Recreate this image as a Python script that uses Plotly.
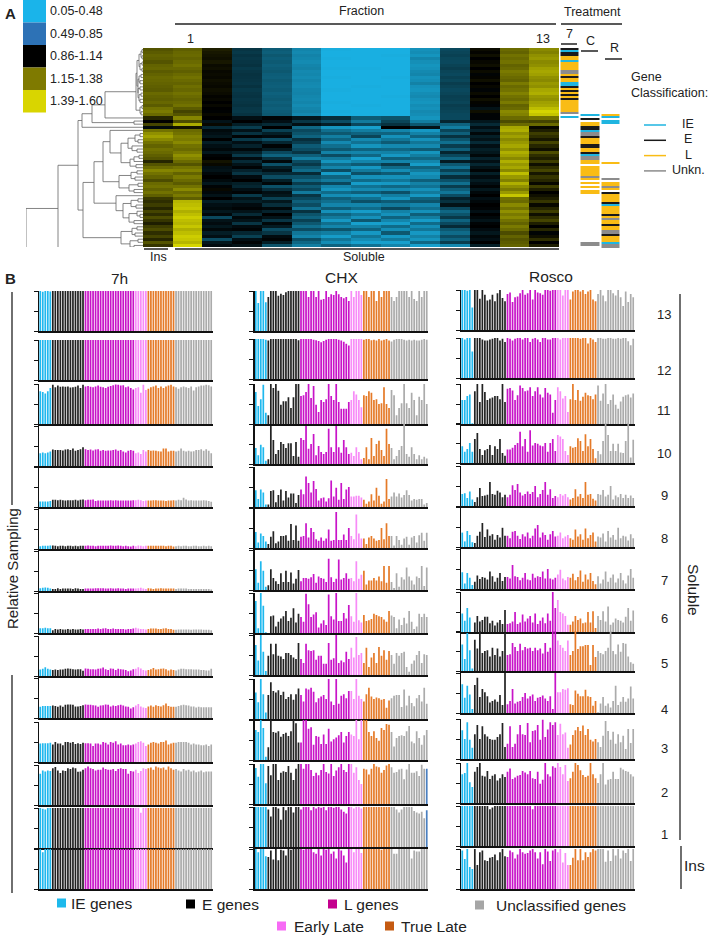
import plotly.graph_objects as go

W, H = 708, 935

# ---------- Panel A: heat map values (x100), one list per fraction, top row to bottom row
ins = [122,124,126,125,122,126,127,124,126,128,127,126,125,124,128,126,125,127,124,130,132,128,
       110,100,118,95,130,138,142,136,130,126,130,128,125,122,110,122,128,135,130,126,120,128,130,126,130,125,115,
       112,116,110,118,112,120,114,108,116,120,112,118,110,122,114,108,116]
f1 = [125,127,128,126,128,130,127,125,128,130,128,126,129,127,130,128,126,128,130,124,118,122,
      135,120,145,105,128,130,134,132,136,130,128,132,138,134,128,122,130,134,126,132,128,124,130,136,128,132,125,
      148,150,152,146,150,154,150,148,152,146,150,154,152,148,156,158,156]
f2 = [108,106,105,104,106,103,104,102,103,102,104,103,102,104,103,101,102,100,102,100,99,102,
      100,90,102,78,95,92,88,100,85,92,96,88,98,100,105,102,92,90,96,100,95,88,98,102,96,90,100,
      85,92,95,88,96,62,90,94,88,96,85,92,60,88,94,86,90]
f3 = [72,70,73,71,72,74,70,72,74,73,72,71,74,70,72,73,71,72,74,71,70,73,
      92,100,84,68,90,74,98,70,92,82,96,84,70,94,78,90,98,82,72,94,100,84,80,92,98,70,90,
      84,94,98,90,78,96,90,72,94,98,80,66,92,98,90,94,86]
f4 = [52,50,54,51,53,50,52,54,51,50,53,51,50,52,49,51,53,50,52,50,52,54,
      98,92,78,100,66,84,94,60,80,98,86,62,48,76,96,58,84,92,78,60,84,96,58,76,92,88,66,
      88,76,96,82,100,90,72,96,86,60,72,94,98,84,56,70,66]
f5 = [30,28,31,29,27,30,32,28,29,27,30,28,27,30,31,29,28,30,27,30,32,28,
      88,72,92,46,62,56,48,76,68,52,60,72,50,34,60,70,54,44,78,58,46,68,52,62,36,72,62,
      50,60,40,74,56,48,66,54,42,60,38,30,58,46,34,44,30]
f6 = [9,8,8,9,8,8,9,8,8,9,8,8,8,9,8,8,8,9,8,8,9,8,
      76,60,84,22,42,54,34,48,28,42,54,32,60,36,22,44,30,60,18,48,36,62,30,22,44,26,50,
      42,30,52,24,48,36,20,42,30,56,34,18,38,26,48,32,8]
f7 = [8,8,8,8,8,8,9,8,8,8,8,8,9,8,8,8,8,8,9,8,8,8,
      52,36,62,16,34,48,64,28,40,22,48,30,46,16,30,52,20,36,58,24,44,18,40,28,50,22,42,
      58,30,44,18,38,24,54,16,32,48,20,38,26,16,40,22,8]
f8 = [8,8,9,8,8,8,8,8,8,9,8,8,8,8,8,9,8,8,8,8,8,8,
      56,64,74,100,30,48,24,38,52,28,46,32,20,50,30,68,44,26,52,24,38,20,46,28,58,34,22,
      52,36,62,32,24,48,30,18,44,26,54,20,36,16,30,24,8]
f9 = [24,26,22,30,25,22,24,28,30,24,26,32,24,22,26,28,24,22,26,24,28,26,
      22,34,54,90,20,32,48,24,38,28,52,22,34,46,30,18,48,36,22,28,50,32,40,24,36,20,48,
      56,30,42,24,50,34,18,44,26,38,20,32,22,46,16,34,8]
f10 = [62,64,66,63,62,65,68,64,62,66,63,68,65,62,64,67,66,64,68,66,64,62,
       62,80,48,34,64,50,74,56,42,68,50,80,62,46,86,54,40,66,48,76,58,42,68,50,38,60,82,
       74,90,62,46,56,70,48,62,78,54,44,60,48,68,28,60,26]
f11 = [103,101,104,100,102,104,100,103,98,101,104,100,102,98,103,100,104,101,98,90,104,98,
       98,88,78,92,82,96,84,90,78,92,84,88,96,82,92,80,90,98,84,94,86,92,98,88,96,100,92,
       96,100,98,92,100,96,90,98,100,94,88,96,92,100,84,90,110]
f12 = [128,126,130,128,130,126,128,132,130,128,126,132,128,130,134,130,128,132,126,128,136,134,
       128,120,128,144,146,138,142,136,140,144,138,146,142,136,146,140,144,136,150,140,134,146,138,132,140,
       152,130,128,136,130,138,132,136,130,126,132,128,120,126,122,124,126]
f13 = [136,134,138,140,136,138,142,144,142,138,136,140,138,144,146,140,138,142,144,150,156,152,
       130,118,128,102,108,116,112,106,118,110,104,120,112,108,116,104,112,118,106,114,110,102,116,108,100,
       104,108,114,102,110,116,104,112,118,108,100,110,98,104,112,100,108]

# ---------- Panel A: gene class of each heat-map strip row (I, E, L, U, . = none)
strip_7 = "EIEELLILLLLUULELLIIELELELELLLLLLU.I"
strip_C = "." * 33 + "I.E.LLEEIUUELLLEELLEIUULL.LLLLLUL.L.L.LL" + "." * 24 + "UU."
strip_R = "." * 33 + "LI.II" + "." * 19 + "L" + "." * 7 + "U.LLUL.ELLLLEILLLLELULLELLUUELLLIUU."

# ---------- Panel A: dendrogram (height, upper branch, lower branch); plain numbers are heat-map rows
den_top = (7, (6, (4, (2, (1, 0, 1), (1, 2, 3)), (3, (1, 4, 5), (1, 6, 7))),
              (5, (4, (2, 8, 9), (3, 10, 11)), (5, (3, 12, 13), (4, (2, 14, 15), (3, 16, 17))))),
           (3, (1, 18, 19), (2, 20, 21)))
den_u1 = (22, (15, (8, (3, 27, 28), (5, 29, 30)), (11, 31, (6, 32, 33))), (13, (9, (4, 34, 35), 36), (7, 37, 38)))
den_u2 = (24, (12, (6, 39, 40), (8, 41, 42)), (14, (5, 43, 44), (9, 45, 46)))
den_b1 = (27, 47, (20, (12, (5, 48, 49), (7, 50, 51)), (14, (6, 52, (3, 53, 54)), (9, 55, 56))))
den_b2 = (22, (11, (6, 57, 58), (8, 59, 60)), (13, (5, 61, 62), (9, 63, 64)))
den_mid = (60, (49, (40, (33, 26, den_u1), den_u2), den_b1), den_b2)
den_up = (61, (51, (38, den_top, 22), (9, 23, 24)), 25)
dendrogram = (117, (85, (65, den_up, den_mid), 65), 65.5)

# ---------- Panel B: relative sampling values; groups are IE, E, L, Early Late, True Late, Unclassified
group_names = ["IE genes", "E genes", "L genes", "Early Late", "True Late", "Unclassified genes"]
group_sizes = [5, 13, 20, 5, 11, 15]

h7_13 = [100,98,100,100,99, 100,100,100,100,100,100,100,100,100,100,100,100,100, 100,100,100,100,100,100,100,100,100,100,100,100,100,100,100,100,100,100,100,100, 100,100,100,100,100, 100,100,100,100,100,100,100,100,100,100,100, 100,100,100,100,100,100,100,100,100,100,100,100,100,100,100]
h7_12 = [100,100,100,100,100, 100,100,100,100,100,100,100,100,100,100,100,100,100, 100,100,100,100,100,100,100,100,100,100,100,100,100,100,100,100,100,100,100,100, 100,100,100,100,100, 100,100,100,100,100,100,100,100,100,100,100, 100,100,100,100,100,100,100,100,100,100,100,100,100,100,100]
h7_11 = [82,80,76,82,90, 98,92,96,93,94,93,94,91,92,93,96,90,98, 94,95,93,92,94,96,93,92,90,93,95,97,99,98,96,97,92,94,90,86, 90,92,78,98,85, 88,92,94,96,90,94,90,94,96,98,94, 92,88,92,94,92,90,94,84,92,94,96,96,98,97,94]
h7_10 = [32,34,32,34,36, 41,40,40,40,39,41,42,40,44,38,40,42,47, 42,40,41,39,41,42,38,40,38,39,39,40,41,38,40,36,34,38,40,38, 32,34,30,40,36, 40,38,39,38,37,36,44,44,36,38,38, 36,38,44,38,36,38,36,37,40,40,42,38,42,38,32]
h7_9 = [14,14,14,14,15, 18,18,17,18,17,16,17,17,17,18,16,18,19, 17,18,18,19,15,16,16,16,16,16,17,16,17,16,16,16,16,16,16,17, 17,18,17,15,16, 16,16,17,17,16,16,16,15,16,16,17, 16,18,17,23,19,16,17,16,16,16,16,17,16,15,13]
h7_8 = [7,8,8,8,9, 9,8,7,8,8,7,8,8,7,8,7,8,8, 8,9,8,8,7,8,8,8,8,8,9,8,8,9,8,7,8,7,6,8, 7,9,8,7,8, 8,8,8,8,8,8,8,7,8,8,6, 7,8,7,8,8,7,7,8,8,7,7,8,7,8,7]
h7_7 = [7,8,9,8,6, 5,5,7,5,6,6,6,6,5,7,6,5,5, 6,6,6,6,7,7,7,7,6,6,7,6,6,7,6,6,5,6,6,6, 6,7,8,6,5, 7,6,5,6,6,7,6,6,6,6,6, 5,6,6,6,6,5,5,5,5,5,5,5,5,5,4]
h7_6 = [12,12,13,12,12, 7,10,9,10,9,9,10,9,10,9,9,10,9, 10,10,10,10,10,11,10,11,12,10,10,11,10,10,10,10,9,10,10,11, 13,11,10,10,9, 10,11,11,11,10,10,11,12,10,10,8, 8,9,9,9,9,9,8,9,9,9,9,8,8,8,7]
h7_5 = [16,18,22,18,16, 15,16,15,16,16,18,19,18,17,16,17,17,13, 19,18,17,17,16,18,19,21,17,15,19,18,15,18,17,16,15,12,14,17, 18,22,19,15,14, 15,17,20,16,17,18,19,17,14,16,15, 14,16,18,18,17,17,17,16,16,16,15,15,14,14,18]
h7_4 = [28,30,30,30,30, 31,30,28,31,28,33,34,34,33,29,29,30,32, 34,33,33,32,31,28,31,32,34,33,29,31,30,32,33,31,29,28,24,27, 31,35,29,26,25, 29,31,28,32,30,29,32,36,30,28,28, 28,30,32,33,32,31,29,29,26,28,27,27,27,27,27]
h7_3 = [46,47,47,47,48, 44,50,46,46,42,50,50,48,50,45,47,45,48, 47,47,46,40,46,46,44,50,48,44,50,48,52,44,46,42,42,44,42,44, 46,50,52,48,40, 44,48,50,48,46,50,50,54,44,46,48, 48,50,50,50,50,48,44,46,44,44,42,42,44,40,44]
h7_2 = [78,86,84,86,85, 92,95,86,80,86,85,92,90,94,92,83,84,88, 92,96,92,90,86,88,88,94,90,88,88,90,85,90,92,90,90,78,85,84, 88,80,85,92,90, 92,94,88,96,94,92,94,88,96,92,88, 90,86,84,90,86,88,84,86,82,84,86,82,84,84,84]
h7_1 = [100,98,96,100,100, 100,100,100,100,100,100,100,100,100,100,100,100,100, 100,100,100,100,100,100,100,100,100,100,100,100,100,100,100,100,100,100,100,100, 100,100,88,100,100, 100,100,100,100,100,100,100,100,100,100,100, 100,100,100,100,100,100,100,100,100,100,100,100,100,100,100]
h7_ins = [100,92,100,100,100, 100,100,100,100,100,100,100,100,100,100,100,100,100, 100,100,100,100,100,100,100,100,100,100,100,100,100,100,100,100,100,100,100,100, 100,100,100,100,100, 100,100,100,100,100,100,100,100,100,100,100, 100,100,100,100,100,100,100,100,100,100,100,100,100,100,100]

chx_13 = [100,70,100,100,72, 85,100,100,100,88,93,90,97,100,100,100,100,100, 100,100,100,85,100,100,85,100,78,80,100,85,92,90,100,92,85,82,85,75, 100,85,100,100,90, 100,100,85,100,100,75,100,85,100,100,100, 85,75,85,100,100,100,100,85,100,80,75,100,85,100,100]
chx_12 = [100,100,100,100,98, 96,100,100,100,100,100,100,100,100,100,100,100,97, 100,100,100,100,100,98,97,95,92,95,98,100,100,100,100,98,96,93,88,84, 100,100,100,100,100, 98,100,100,97,98,96,100,96,98,100,96, 94,98,100,100,100,98,96,98,96,98,96,96,98,100,98]
chx_11 = [80,45,62,98,28, 22,100,90,100,83,48,57,57,67,40,67,100,100, 70,72,80,100,65,95,48,30,60,55,62,100,70,60,100,55,38,38,38,55, 60,82,74,60,42, 72,70,82,78,60,62,50,52,92,50,40, 85,72,22,40,52,100,52,40,78,60,22,68,60,100,50]
chx_10 = [40,22,48,42,8, 12,95,60,25,35,55,50,40,52,52,20,55,18, 65,60,95,38,50,75,22,45,30,25,30,88,42,30,95,42,28,60,42,25, 28,20,42,30,12, 15,42,12,65,20,50,58,35,20,88,50, 40,12,20,35,45,100,25,18,42,25,12,22,12,18,14]
chx_9 = [42,20,44,36,6, 6,40,42,12,30,44,16,40,24,34,34,10,30, 44,32,76,60,36,65,45,16,22,24,14,22,66,26,48,18,60,20,44,50, 26,26,28,28,24, 18,8,14,32,16,48,28,8,14,70,20, 26,36,26,34,24,30,42,30,16,20,18,20,20,6,10]
chx_8 = [40,14,36,30,16, 10,28,42,12,16,30,30,32,18,60,20,56,18, 28,30,62,26,50,40,22,18,26,18,24,46,18,20,90,20,20,34,20,50, 30,22,84,36,24, 24,10,26,30,24,18,20,50,22,62,30, 30,6,30,20,8,24,28,8,26,30,14,32,38,18,38]
chx_7 = [52,18,72,48,8, 12,52,30,22,15,42,20,48,20,44,16,28,50, 22,30,30,28,32,40,18,34,30,28,20,78,32,20,28,76,26,30,42,28, 30,22,72,28,38, 48,14,24,24,30,24,34,22,60,18,60, 20,5,42,8,32,26,56,34,24,14,34,30,60,10,56]
chx_6 = [80,12,100,68,2, 0,42,44,16,28,36,42,55,30,38,62,26,48, 40,28,98,72,40,46,52,14,24,32,20,96,42,34,100,30,30,50,36,70, 42,28,104,32,26, 45,30,32,35,48,45,42,40,34,28,55, 44,40,12,34,20,38,24,55,28,10,16,48,40,48,40]
chx_5 = [75,36,100,58,10, 48,78,52,78,48,46,40,55,55,50,44,40,80, 40,30,78,62,60,62,38,48,48,28,28,80,38,42,110,30,36,32,58,40, 68,44,95,50,55, 30,68,20,44,55,30,70,48,62,38,60, 50,28,55,48,55,58,20,8,28,36,50,60,30,52,50]
chx_4 = [66,42,100,62,16, 60,92,70,66,72,60,68,50,55,62,48,62,76, 60,44,76,74,78,68,42,52,56,60,50,100,44,35,100,38,58,62,52,70, 70,50,100,58,50, 44,62,78,56,50,54,52,48,50,28,46, 52,58,60,60,30,74,34,58,40,32,52,60,44,78,38]
chx_3 = [75,70,100,80,8, 32,100,70,68,72,58,65,68,60,72,100,92,44, 44,100,102,78,82,38,60,58,40,64,40,78,46,52,56,62,70,44,60,70, 64,60,100,52,100, 100,100,70,60,72,55,48,80,75,90,88, 70,34,55,60,62,60,72,85,46,42,72,55,38,62,75]
chx_2 = [90,68,100,100,52, 95,72,100,100,60,78,82,80,95,78,60,88,100, 100,88,100,100,85,70,78,72,85,100,80,76,100,70,84,92,100,85,80,100, 100,78,92,60,50, 88,86,74,88,100,94,92,78,85,96,100, 92,78,80,86,88,62,86,100,78,78,82,70,98,88,88]
chx_1 = [100,100,100,100,100, 94,76,100,100,96,68,100,92,100,100,86,100,100, 94,100,100,100,92,100,96,100,98,100,92,100,100,98,100,100,94,88,84,100, 100,96,100,100,96, 100,100,100,100,100,100,100,100,100,100,100, 100,100,94,86,94,100,100,100,100,90,86,84,88,72,92]
chx_ins = [100,92,100,100,82, 80,96,74,100,72,98,96,84,100,98,100,100,100, 100,98,100,100,100,92,88,100,84,100,98,100,88,94,76,100,96,84,66,100, 100,92,100,100,90, 100,100,100,100,100,100,100,98,100,100,100, 100,88,88,100,100,100,100,100,76,96,94,94,100,100,100]

ros_13 = [100,100,98,100,56, 100,100,78,100,88,74,76,88,72,92,100,80,72, 90,94,70,82,84,92,100,88,92,100,76,100,94,92,88,100,100,98,100,100, 100,100,86,100,100, 76,96,100,100,96,100,90,96,100,76,72, 90,100,86,72,100,100,92,86,100,82,60,96,70,90,82]
ros_12 = [100,96,100,100,66, 100,100,100,96,94,94,96,98,100,100,94,98,90, 100,98,94,98,100,100,96,100,100,90,98,100,96,90,100,100,96,96,100,100, 100,96,100,100,100, 100,100,100,100,98,100,100,86,100,96,90, 100,100,98,98,100,100,98,98,100,98,100,100,92,82,98]
ros_11 = [60,60,70,74,2, 82,100,55,100,80,60,64,66,70,70,62,100,55, 88,90,84,60,72,96,90,82,84,92,70,82,92,74,66,90,78,74,28,60, 92,82,64,70,30, 62,100,60,85,58,68,78,72,70,62,74, 96,58,76,100,50,60,74,48,38,56,68,72,74,66,76]
ros_10 = [42,28,35,50,28, 60,75,35,20,32,35,45,20,42,35,60,25,18, 34,34,38,45,50,78,42,60,28,82,44,50,48,44,42,50,28,50,60,30, 70,66,60,30,20, 42,38,40,62,55,30,72,42,60,35,12, 30,22,55,100,70,30,48,30,48,26,25,55,100,14,58]
ros_9 = [30,32,20,36,16, 10,22,45,25,26,28,60,30,28,38,34,22,28, 22,28,52,40,55,34,26,30,36,30,35,50,22,30,40,60,28,42,20,25, 22,30,26,30,22, 16,20,42,24,30,20,60,28,30,18,14, 30,28,40,24,28,50,16,26,22,30,20,28,20,26,20]
ros_8 = [36,14,40,30,12, 10,28,38,60,25,44,28,32,18,30,24,48,28, 28,22,38,40,28,20,32,26,36,22,28,46,55,24,36,30,18,32,40,26, 28,36,22,26,30, 22,18,44,26,32,18,46,22,30,36,14, 26,24,34,14,40,24,30,18,48,22,28,26,16,32,22]
ros_7 = [42,14,40,28,10, 18,34,25,30,28,24,44,32,18,28,40,20,30, 30,26,60,32,30,22,28,40,24,22,38,28,32,30,44,26,50,26,24,28, 36,48,26,22,30, 28,38,22,30,46,18,36,24,40,20,12, 32,14,24,44,18,28,36,16,26,40,22,14,34,50,28]
ros_6 = [46,28,60,36,0, 24,40,26,30,38,38,22,28,16,24,30,20,55, 20,22,26,50,20,24,44,26,34,40,24,46,20,28,36,22,46,28,100,60, 80,50,46,40,18, 18,26,40,30,34,22,24,50,24,52,10, 40,30,52,26,64,18,24,34,30,28,24,38,60,28,54]
ros_5 = [66,30,95,52,6, 78,56,100,45,50,52,36,58,40,56,36,50,95, 40,42,70,60,50,68,52,60,56,58,50,58,52,56,44,70,48,58,100,100, 76,65,58,50,76, 40,50,100,55,62,62,65,65,15,65,35, 50,45,42,50,58,100,50,42,66,48,70,68,36,22,18]
ros_4 = [72,38,68,46,10, 70,88,40,60,52,42,26,30,34,28,45,20,100, 22,30,60,24,28,30,40,50,36,42,46,30,38,40,44,36,30,42,10,100, 52,52,60,58,62, 22,20,56,48,42,42,58,42,40,18,30, 2,24,40,18,24,14,30,68,20,28,40,28,36,66,36]
ros_3 = [72,50,92,48,28, 62,85,50,82,62,56,50,48,48,55,62,90,30, 38,82,30,38,62,85,62,60,90,42,70,72,85,48,98,55,74,92,85,92, 60,88,62,66,28, 36,60,72,80,70,84,60,75,48,44,50, 42,30,58,95,70,48,68,38,62,42,58,25,75,40,75]
ros_2 = [72,75,100,52,40, 78,90,100,68,66,80,60,68,72,56,62,72,65, 78,86,60,64,68,70,80,76,72,80,62,60,78,48,58,100,72,66,92,88, 100,90,72,95,55, 62,78,100,95,82,70,65,68,100,72,62, 50,72,100,46,58,60,78,60,60,88,84,80,78,72,66]
ros_1 = [100,100,100,100,100, 100,100,100,100,100,100,92,96,100,100,100,100,100, 100,100,100,100,100,100,100,100,100,100,92,100,100,100,100,100,100,100,100,100, 100,100,100,100,100, 100,100,100,100,100,100,100,100,100,100,100, 100,100,100,100,100,100,100,100,100,100,100,100,100,100,100]
ros_ins = [96,75,100,55,50, 100,60,92,96,72,70,78,80,86,72,92,100,82, 80,96,92,76,86,100,92,88,90,96,100,92,76,92,62,100,94,70,96,100, 92,100,66,90,60, 60,78,100,72,100,72,92,80,92,100,96, 100,100,100,68,96,70,100,84,100,76,96,90,100,70,100]

panel_7h = [h7_13, h7_12, h7_11, h7_10, h7_9, h7_8, h7_7, h7_6, h7_5, h7_4, h7_3, h7_2, h7_1, h7_ins]
panel_chx = [chx_13, chx_12, chx_11, chx_10, chx_9, chx_8, chx_7, chx_6, chx_5, chx_4, chx_3, chx_2, chx_1, chx_ins]
panel_ros = [ros_13, ros_12, ros_11, ros_10, ros_9, ros_8, ros_7, ros_6, ros_5, ros_4, ros_3, ros_2, ros_1, ros_ins]

row_labels = ["13", "12", "11", "10", "9", "8", "7", "6", "5", "4", "3", "2", "1"]
legend_ranges = ["0.05-0.48", "0.49-0.85", "0.86-1.14", "1.15-1.38", "1.39-1.60"]
class_labels = ["IE", "E", "L", "Unkn."]

# ---------- styles and layout
FONT = "Liberation Sans"
TXT = "#222222"
BAR_COLORS = ["#1FB8EE", "#222222", "#C814C8", "#F78CF7", "#E57A28", "#ABABAB"]
KEY_COLORS = ["#1DB9EC", "#000000", "#C4008E", "#F76AF5", "#C55A11", "#A6A6A6"]
LEG_COLORS = ["#1AB4EA", "#2D72B6", "#000000", "#7F7A00", "#D9D500"]
CLASS_COLORS = ["#1FB5E0", "#1A1A1A", "#F9BC15", "#8C8C8C"]
BASES = [[331, 380, 424, 466, 507, 549, 591, 633, 676, 718, 762, 805, 848, 889],
         [331, 379, 424, 464, 507, 548, 590, 633, 675, 719, 760, 804, 847, 889],
         [330, 378, 424, 463, 506, 547, 589, 632, 671, 713, 759, 803, 846, 889]]
STARTS = [39, 254.5, 461]
BAR_W = 173.5
ROW_H = 40


def px(x):
    return x / W


def py(y):
    return 1 - y / H


fig = go.Figure()
layout = {}
shapes = []
ann = []


def text(x, y, s, size=12, rot=0, anchor="center", bold=False):
    ann.append(dict(x=px(x), y=py(y), xref="paper", yref="paper", text=f"<b>{s}</b>" if bold else s,
                    showarrow=False, textangle=rot, xanchor=anchor, yanchor="middle",
                    font=dict(family=FONT, size=size, color=TXT)))


def line(x0, y0, x1, y1, color="#222222", w=1.5):
    shapes.append(dict(type="line", xref="paper", yref="paper", x0=px(x0), y0=py(y0), x1=px(x1), y1=py(y1),
                       line=dict(color=color, width=w)))


def rect(x0, y0, x1, y1, color):
    shapes.append(dict(type="rect", xref="paper", yref="paper", x0=px(x0), y0=py(y0), x1=px(x1), y1=py(y1),
                       fillcolor=color, line=dict(width=0)))


def axes(n, x0, x1, y_top, y_bot, xcfg, ycfg):
    suffix = "" if n == 1 else str(n)
    layout["xaxis" + suffix] = dict(domain=[px(x0), px(x1)], anchor="y" + suffix, **xcfg)
    layout["yaxis" + suffix] = dict(domain=[py(y_bot), py(y_top)], anchor="x" + suffix, **ycfg)
    return ("x" + suffix, "y" + suffix)


HIDE = dict(visible=False, showgrid=False, zeroline=False)

# heat map
heat_cols = [ins, f1, f2, f3, f4, f5, f6, f7, f8, f9, f10, f11, f12, f13]
n_rows = min(len(c) for c in heat_cols)
z = [[c[r] / 100 for c in heat_cols] for r in range(n_rows)]
xa, ya = axes(1, 143, 559, 48, 247, dict(HIDE, range=[-0.5, 13.5]), dict(HIDE, range=[n_rows - 0.5, -0.5]))
fig.add_trace(go.Heatmap(z=z, xaxis=xa, yaxis=ya, showscale=False, zmin=0.05, zmax=1.6,
                         colorscale=[[0, "#1AB5E8"], [0.613, "#000000"], [1, "#E4E400"]]))

# class strips
codes = {"I": 0, "E": 1, "L": 2, "U": 3}
strips = [strip_7, strip_C, strip_R]
strip_rows = 100
sz = [[codes.get(s[r], None) if r < len(s) else None for s in strips] for r in range(strip_rows)]
xa, ya = axes(2, 559.5, 620.5, 48, 248, dict(HIDE, range=[-0.5, 2.5]), dict(HIDE, range=[strip_rows - 0.5, -0.5]))
cs = []
for i, c in enumerate(CLASS_COLORS):
    cs += [[i / 4, c], [(i + 1) / 4, c]]
fig.add_trace(go.Heatmap(z=sz, xaxis=xa, yaxis=ya, showscale=False, zmin=-0.5, zmax=3.5, colorscale=cs, xgap=2,
                         hoverongaps=False))

# dendrogram
dx, dy = [], []


def walk(node):
    if not isinstance(node, tuple):
        return node, 0
    h, a, b = node
    pa, ha = walk(a)
    pb, hb = walk(b)
    dx.extend([ha, h, h, hb, None])
    dy.extend([pa, pa, pb, pb, None])
    return (pa + pb) / 2, h


walk(dendrogram)
xa, ya = axes(3, 26, 143, 48, 247, dict(HIDE, range=[117, 0]), dict(HIDE, range=[n_rows - 0.5, -0.5]))
fig.add_trace(go.Scatter(x=dx, y=dy, xaxis=xa, yaxis=ya, mode="lines", line=dict(color="#666666", width=0.8),
                         hoverinfo="skip"))

# relative sampling bars
colors = []
for c, size in zip(BAR_COLORS, group_sizes):
    colors += [c] * size
n = 4
for col, panel in enumerate([panel_7h, panel_chx, panel_ros]):
    for row, vals in enumerate(panel):
        base = BASES[col][row]
        xcfg = dict(range=[-0.5, len(colors) - 0.5], showline=True, linecolor="#111111", linewidth=1.8, ticks="",
                    showticklabels=False, showgrid=False, zeroline=False)
        ycfg = dict(range=[0, 100], showline=True, linecolor="#111111", linewidth=1.2, ticks="outside", ticklen=4,
                    tickwidth=1, tickcolor="#111111", tickvals=[0, 50, 100], showticklabels=False, showgrid=False,
                    zeroline=False)
        xa, ya = axes(n, STARTS[col], STARTS[col] + BAR_W, base - ROW_H, base, xcfg, ycfg)
        bar_colors = list(colors)
        if col == 1 and row in (11, 12):
            bar_colors[-1] = "#4A7FC0"
        fig.add_trace(go.Bar(y=vals, xaxis=xa, yaxis=ya, marker=dict(color=bar_colors, line=dict(width=0)),
                             cliponaxis=False, width=0.68))
        n += 1

# panel A furniture
for i, (c, lab) in enumerate(zip(LEG_COLORS, legend_ranges)):
    rect(23, i * 22.5, 46, (i + 1) * 22.5, c)
    text(48, 11 + i * 22.5, lab, 12.5, anchor="left")
text(3, 13, "A", 15, anchor="left", bold=True)
text(3, 279, "B", 15, anchor="left", bold=True)
text(361, 11, "Fraction", 12.5)
line(175, 24, 556, 24)
text(190, 39, "1", 12.5)
text(543, 39, "13", 12.5)
text(592, 12, "Treatment", 12.5)
line(561, 24, 622, 24)
text(569, 34, "7", 12.5)
line(561, 44, 577, 44)
text(590, 41, "C", 12.5)
line(581, 51, 598, 51)
text(614, 48, "R", 12.5)
line(605, 59, 622, 59)
text(629, 77, "Gene", 12.5, anchor="left")
text(629, 93, "Classification:", 12.5, anchor="left")
for i, (c, lab) in enumerate(zip(CLASS_COLORS, class_labels)):
    y = 125 + i * 15.3
    line(644, y, 666, y, c, 1.5)
    text(688, y - 1, lab, 12.5)
line(144, 249, 168, 249)
text(158, 257, "Ins", 12.5)
line(175, 249, 559, 249)
text(364, 257, "Soluble", 12.5)

# panel B furniture
text(119, 278, "7h", 15.5)
text(341, 277, "CHX", 15.5)
text(551, 276, "Rosco", 15.5)
line(12, 292, 12, 505, "#222222", 1.3)
line(12, 675, 12, 893, "#222222", 1.3)
text(12, 569, "Relative Sampling", 15, rot=-90)
line(680, 294, 680, 840, "#222222", 1.3)
line(681, 846, 681, 889, "#222222", 1.3)
text(694, 590, "Soluble", 15.5, rot=90)
text(694, 865, "Ins", 15.5)
row_y = [314, 370, 410, 453, 495, 538, 580, 618, 663, 709, 748, 792, 834]
for lab, y in zip(row_labels, row_y):
    text(664, y, lab, 13)

keys = [(0, 57, 903, 69), (1, 186, 904, 200), (2, 328, 904, 342), (5, 475, 905, 494), (3, 277, 926, 292), (4, 385, 926, 399)]
for idx, xs, y, xt in keys:
    rect(xs, y - 4.5, xs + 9, y + 4.5, KEY_COLORS[idx])
    text(xt, y, group_names[idx], 15.5, anchor="left")

fig.update_layout(width=W, height=H, margin=dict(l=0, r=0, t=0, b=0), showlegend=False, paper_bgcolor="white",
                  plot_bgcolor="rgba(0,0,0,0)", barmode="overlay", shapes=shapes, annotations=ann, **layout)
fig.write_html("out.html", config={"staticPlot": True}, post_script="document.body.style.margin='0';")
